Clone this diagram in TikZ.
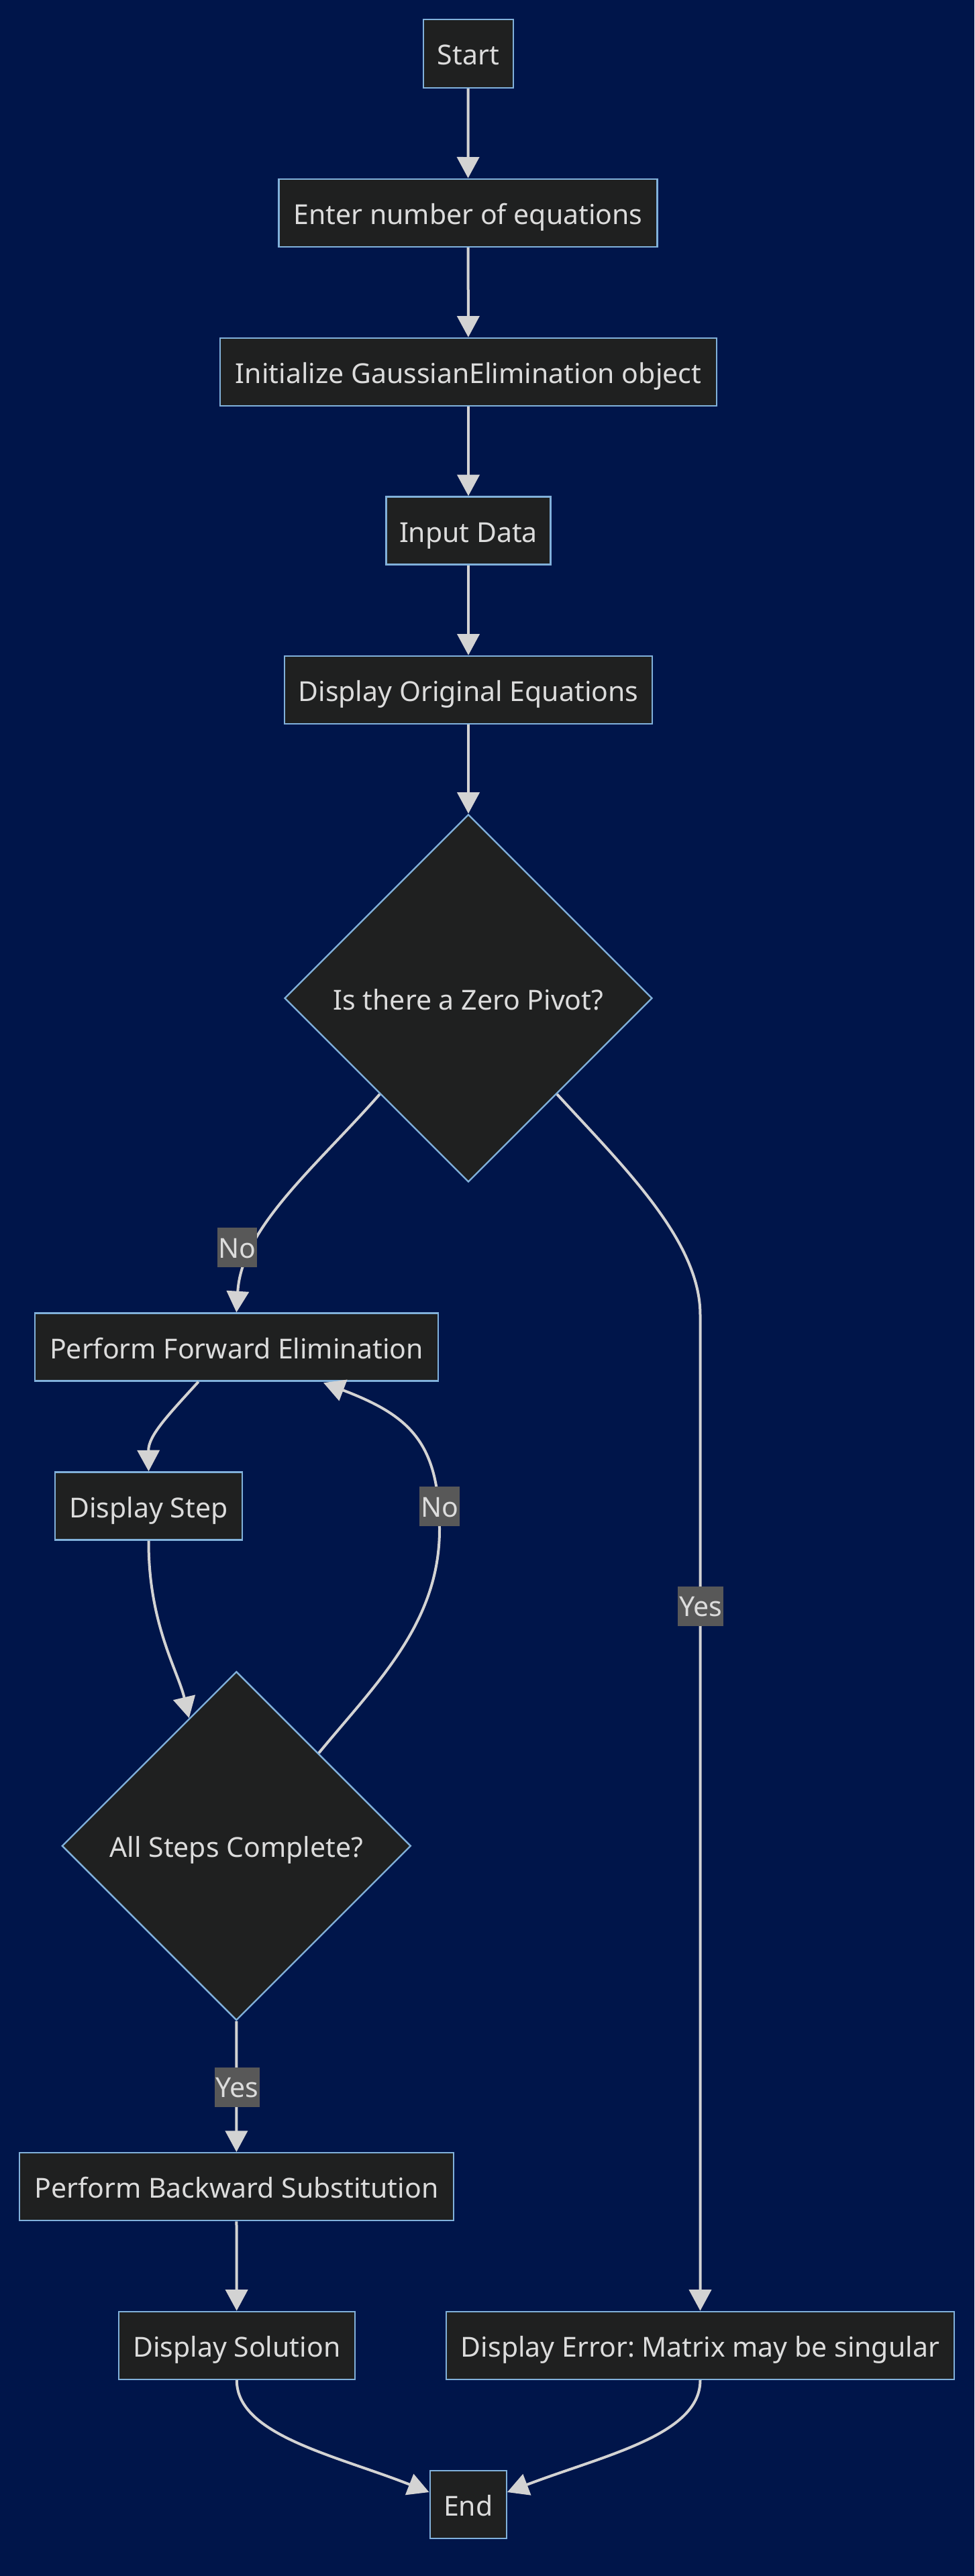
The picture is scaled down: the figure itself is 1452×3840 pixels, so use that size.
\documentclass[tikz,border=0pt]{standalone}
\usepackage{fontspec}
\setmainfont{Noto Sans}
\frenchspacing
\usetikzlibrary{arrows.meta,shapes.geometric,calc}
\definecolor{bg}{RGB}{0,21,74}
\definecolor{nfill}{HTML}{1F2020}
\definecolor{nborder}{HTML}{81B1DB}
\definecolor{txt}{HTML}{DCDCDC}
\definecolor{edgec}{HTML}{D3D3D3}
\definecolor{lblbg}{HTML}{585858}
\begin{document}
\begin{tikzpicture}[x=0.5pt,y=-0.5pt,
  box/.style={draw=nborder,fill=nfill,line width=1.2pt,text=txt,font=\fontsize{20.5}{24}\selectfont,inner sep=0pt,text height=21pt,text depth=4pt,minimum height=50.5pt},
  dia/.style={diamond,aspect=1,draw=nborder,fill=nfill,line width=1.2pt,text=txt,font=\fontsize{20.5}{24}\selectfont,inner sep=0pt,text height=21pt,text depth=4pt},
  edge/.style={draw=edgec,line width=2pt,-{Triangle[length=15.8pt,width=16.5pt]}},
  lbl/.style={fill=lblbg,text=txt,font=\fontsize{20.5}{24}\selectfont,inner xsep=1pt,inner ysep=0pt,text height=19.5pt,text depth=4pt,minimum height=29.5pt}]
\fill[bg] (0,0) rectangle (1452,3840);
\useasboundingbox (0,0) rectangle (1452,3840);

\node[box,minimum width=67pt,minimum height=51pt] (start) at (697.8,79.9) {Start};
\node[box,minimum width=282pt] (enter) at (697.5,317.3) {Enter number of equations};
\node[box,minimum width=370pt] (init) at (698,554.4) {Initialize GaussianElimination object};
\node[box,minimum width=122.5pt] (input) at (698,791) {Input Data};
\node[box,minimum width=274pt] (orig) at (698,1028.4) {Display Original Equations};
\node[dia,minimum width=274pt,minimum height=274pt] (zero) at (698,1488) {Is there a Zero Pivot?};
\node[box,minimum width=300.5pt] (pfe) at (352.4,2008) {Perform Forward Elimination};
\node[box,minimum width=139.5pt] (dstep) at (221.5,2245) {Display Step};
\node[dia,minimum width=260pt,minimum height=260pt] (all) at (352.3,2751.7) {All Steps Complete?};
\node[box,minimum width=323.5pt] (pbs) at (352.4,3259.6) {Perform Backward Substitution};
\node[box,minimum width=176pt] (dsol) at (352.8,3496.4) {Display Solution};
\node[box,minimum width=378.5pt] (derr) at (1043.5,3496.4) {Display Error: Matrix may be singular};
\node[box,minimum width=57pt] (end) at (697.7,3733.6) {End};

\draw[edge] (start) -- (enter);
\draw[edge] (enter) -- (init);
\draw[edge] (init) -- (input);
\draw[edge] (input) -- (orig);
\draw[edge] (orig) -- (zero);

\draw[edge] ($(zero.west)!0.52!(zero.south)$) .. controls (470,1740) and (360,1830) .. (pfe.north);
\draw[edge] ($(zero.east)!0.52!(zero.south)$) .. controls (930,1740) and (1043.5,1850) .. (1043.5,1960) -- (derr.north);

\draw[edge] ($(pfe.south)+(-56.7,0)$) .. controls (250,2110) and (221,2140) .. (dstep.north);
\draw[edge] (dstep.south) .. controls (221,2420) and (265,2490) .. ($(all.north)!0.27!(all.west)$);
\draw[edge] ($(all.north)!0.47!(all.east)$) .. controls (560,2510) and (655,2420) .. (655,2280)
  .. controls (655,2150) and (610,2110) .. ($(pfe.south)+(129.6,1.5)$);

\draw[edge] (all.south) -- (pbs.north);
\draw[edge] (pbs) -- (dsol);

\draw[edge] (dsol.south) .. controls (352.8,3630) and (500,3660) .. ($(end.west)+(0,-18.6)$);
\draw[edge] (derr.south) .. controls (1043.5,3630) and (900,3660) .. ($(end.east)+(0,-18.6)$);

\node[lbl] (l1) at (353.5,1859.6) {No};
\node[lbl] (l2) at (655.3,2245.5) {No};
\node[lbl] (l3) at (1044.2,2394) {Yes};
\node[lbl] (l4) at (353.5,3111) {Yes};
\end{tikzpicture}
\end{document}
